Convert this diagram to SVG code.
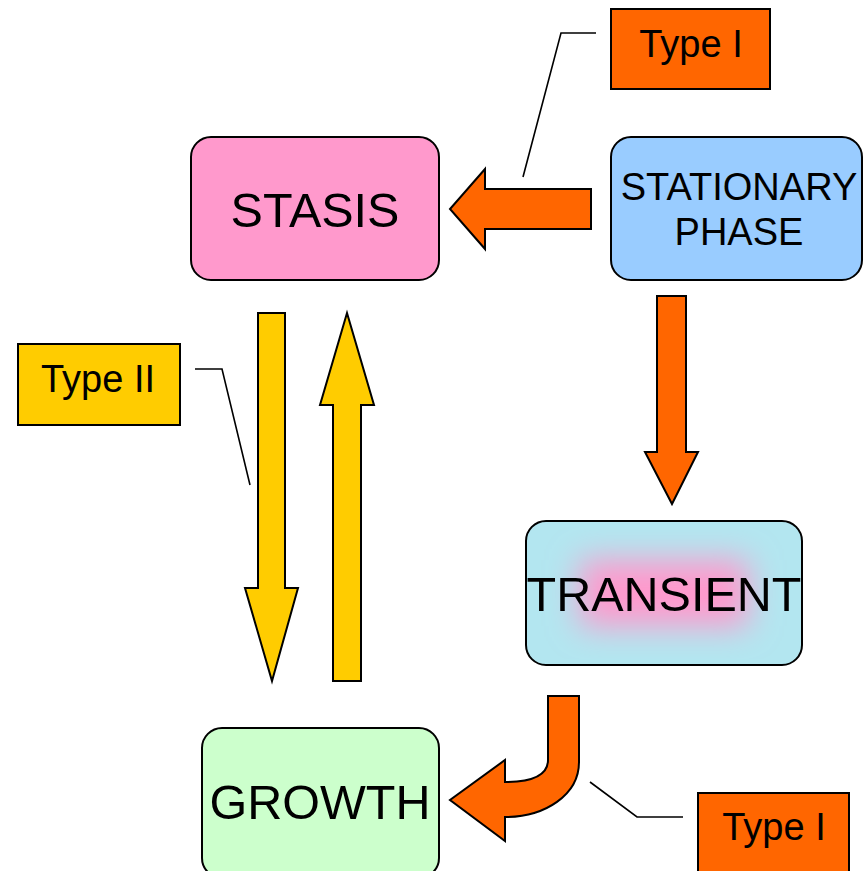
<svg xmlns="http://www.w3.org/2000/svg" width="863" height="871" viewBox="0 0 863 871">
<defs>
<filter id="blur" x="-50%" y="-50%" width="200%" height="200%">
<feGaussianBlur stdDeviation="16"/>
</filter>
<clipPath id="tclip">
<rect x="526" y="521" width="276" height="144" rx="20"/>
</clipPath>
</defs>
<style>
.box{stroke:#000;stroke-width:2}
.lbl{stroke:#000;stroke-width:2}
.t{font-family:"Liberation Sans",Arial,sans-serif;fill:#000;text-anchor:middle}
.big{font-size:48.5px}
.mid{font-size:38px}
.or{fill:#ff6600;stroke:#000;stroke-width:2;stroke-linejoin:miter}
.ye{fill:#ffcc00;stroke:#000;stroke-width:2}
.call{fill:none;stroke:#000;stroke-width:1.6}
</style>
<rect width="863" height="871" fill="#fff"/>
<g id="stasis">
<rect class="box" x="191" y="137" width="248" height="143" rx="20" fill="#ff99cc"/>
<text class="t big" x="315" y="227">STASIS</text>
</g>
<g id="stationary">
<rect class="box" x="611" y="137" width="251" height="143" rx="20" fill="#99ccff"/>
<text class="t mid" x="739" y="200">STATIONARY</text>
<text class="t mid" x="739" y="245">PHASE</text>
</g>
<g id="transient">
<rect x="526" y="521" width="276" height="144" rx="20" fill="#b3e6f0"/>
<g clip-path="url(#tclip)">
<rect x="580" y="560" width="168" height="66" fill="#ff99cc" filter="url(#blur)"/>
</g>
<rect class="box" x="526" y="521" width="276" height="144" rx="20" fill="none"/>
<text class="t big" x="664" y="611">TRANSIENT</text>
</g>
<g id="growth">
<rect class="box" x="202" y="728" width="237" height="150" rx="20" fill="#ccffcc"/>
<text class="t big" x="320" y="819">GROWTH</text>
</g>
<g id="type1-top">
<rect class="lbl" x="611" y="9" width="159" height="80" fill="#ff6600"/>
<text class="t mid" x="691" y="57">Type I</text>
</g>
<g id="type2">
<rect class="lbl" x="18" y="344" width="162" height="81" fill="#ffcc00"/>
<text class="t mid" x="98" y="392">Type II</text>
</g>
<g id="type1-bottom">
<rect class="lbl" x="698" y="793" width="151" height="90" fill="#ff6600"/>
<text class="t mid" x="774" y="840">Type I</text>
</g>
<g id="connectors">
<path class="or" d="M591,189 L485,189 L485,169 L450,209 L485,249 L485,229 L591,229 Z"/>
<path class="or" d="M657,296 L686,296 L686,452 L698,452 L672,504 L645,452 L657,452 Z"/>
<path class="ye" d="M258,313 L285,313 L285,588 L298,588 L272,681 L245,588 L258,588 Z"/>
<path class="ye" d="M347,313 L374,405 L361,405 L361,681 L333,681 L333,405 L320,405 Z"/>
<path class="or" d="M548,696 L579,696 L579,762 C579,795 545,817 505,817 L505,841 L450,800 L505,760 L505,782 C530,782 548,776 548,760 Z"/>
<polyline class="call" points="596,33 561,33 523,177"/>
<polyline class="call" points="195,369 222,369 250,485"/>
<polyline class="call" points="590,782 637,817 683,817"/>
</g>
</svg>
